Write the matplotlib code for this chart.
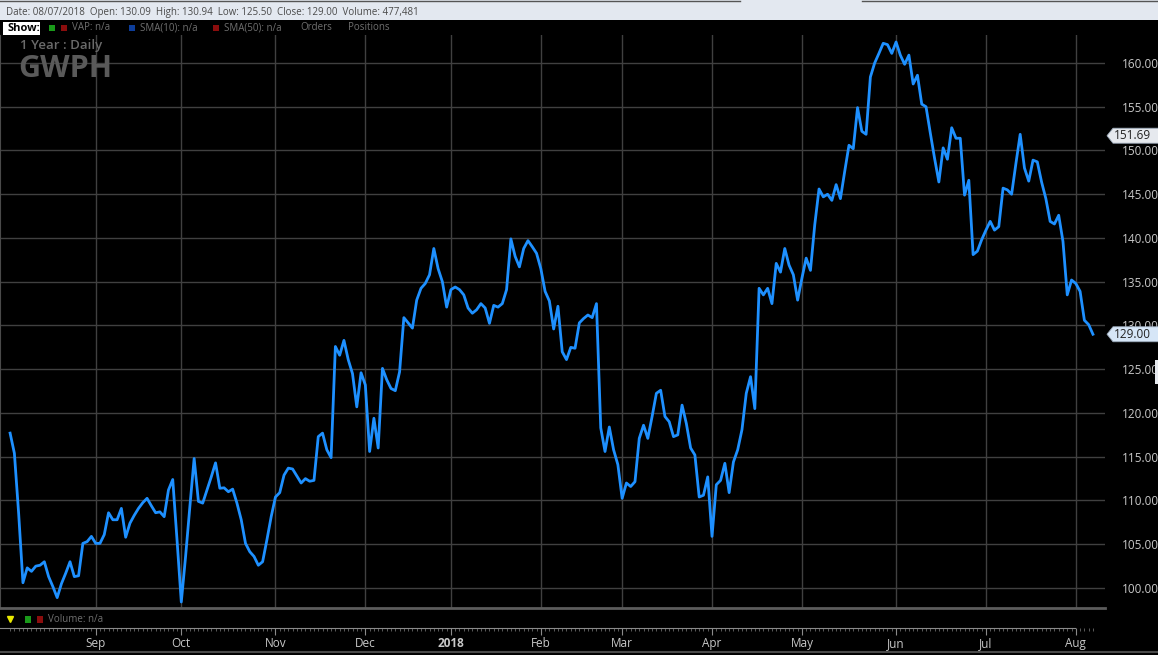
import matplotlib
matplotlib.use('Agg')
import matplotlib.pyplot as plt
from matplotlib.patches import Rectangle, Polygon
from matplotlib.lines import Line2D
import numpy as np
import pandas as pd

# trading days, US market holidays removed
holidays = ['2017-09-04', '2017-11-23', '2017-12-25', '2018-01-01', '2018-01-15',
            '2018-02-19', '2018-03-30', '2018-05-28', '2018-07-04']
dates = pd.bdate_range('2017-08-04', '2018-08-07', freq='C', holidays=holidays)

# daily close
close = [
    117.7, 115.4, 108.5, 100.6, 102.3, 101.9, 102.5, 102.6, 103.0, 101.3,
    100.15, 98.9, 100.5, 101.7, 103.0, 101.3, 101.4, 105.1, 105.3, 105.9,
    105.1, 105.1, 106.1, 108.6, 107.8, 107.8, 109.1, 105.8, 107.4, 108.3,
    109.1, 109.75, 110.25, 109.4, 108.6, 108.7, 108.15, 111.2, 112.4, 105.5,
    98.4, 103.6, 109.3, 114.8, 109.9, 109.7, 111.2, 112.7, 114.3, 111.4,
    111.45, 111.0, 111.3, 109.7, 107.8, 105.1, 104.15, 103.6, 102.6, 103.0,
    105.5, 108.15, 110.4, 110.9, 112.9, 113.7, 113.6, 112.8, 112.0, 112.5,
    112.2, 112.3, 117.3, 117.7, 115.8, 114.9, 127.6, 126.6, 128.3, 126.1,
    124.5, 120.7, 124.6, 123.2, 115.6, 119.4, 116.0, 125.1, 123.8, 122.8,
    122.55, 124.7, 130.9, 130.3, 129.7, 132.9, 134.25, 134.8, 135.8, 138.8,
    136.5, 135.0, 132.1, 134.1, 134.4, 134.1, 133.5, 132.0, 131.4, 131.8,
    132.5, 132.0, 130.25, 132.3, 132.1, 132.5, 134.1, 139.9, 137.9, 136.7,
    138.8, 139.7, 139.0, 138.25, 136.5, 133.9, 132.8, 129.6, 132.2, 127.0,
    126.1, 127.5, 127.4, 130.3, 130.8, 131.2, 130.9, 132.5, 118.3, 115.6,
    118.4, 115.8, 114.1, 110.25, 112.0, 111.6, 112.15, 117.1, 118.6, 117.1,
    119.6, 122.25, 122.6, 119.6, 119.0, 117.3, 117.5, 120.9, 118.8, 116.0,
    115.2, 110.4, 110.6, 112.7, 105.9, 111.8, 112.3, 114.25, 110.9, 114.4,
    115.8, 118.1, 122.25, 124.15, 120.5, 134.25, 133.5, 134.25, 132.5, 137.1,
    136.1, 138.8, 136.9, 135.8, 132.9, 135.4, 137.7, 136.3, 141.5, 145.6,
    144.7, 145.0, 144.3, 146.1, 144.5, 147.6, 150.6, 150.2, 154.9, 152.2,
    151.85, 158.4, 160.0, 161.1, 162.25, 162.1, 161.1, 162.4, 160.9, 159.85,
    160.9, 157.6, 158.6, 155.3, 155.0, 152.0, 149.1, 146.4, 150.3, 149.0,
    152.6, 151.4, 151.4, 144.9, 146.6, 138.1, 138.5, 139.8, 140.9, 141.9,
    140.9, 141.3, 145.7, 145.5, 145.0, 148.5, 151.85, 148.0, 146.5, 148.9,
    148.7, 146.4, 144.5, 141.9, 141.6, 142.6, 139.6, 133.5, 135.2, 134.8,
    133.9, 130.6, 130.1, 129.0,
]
dates = dates[:len(close)]

month_labels = ['Sep', 'Oct', 'Nov', 'Dec', '2018', 'Feb', 'Mar', 'Apr',
                'May', 'Jun', 'Jul', 'Aug']
price_ticks = np.arange(100, 161, 5)
marker_prices = [151.69, 129.00]
info_text = ('Date: 08/07/2018  Open: 130.09  High: 130.94  Low: 125.50  '
             'Close: 129.00  Volume: 477,481')

plt.rcParams['font.family'] = ['Open Sans', 'DejaVu Sans']

W, H = 1158, 655
fig = plt.figure(figsize=(W / 100, H / 100), dpi=100, facecolor='black')


def fx(px):
    return px / W


def fy(py):
    return 1 - py / H


# pixel mapping of the day index
x0, dx = 10.1, 4.28
xlim = ((0 - x0) / dx, (1105 - x0) / dx)

idx = np.arange(len(close))
month_pos = [i for i in range(1, len(dates)) if dates[i].month != dates[i - 1].month]

# top info bar
fig.patches.append(Rectangle((0, fy(20)), 1, 20 / H, transform=fig.transFigure,
                             facecolor='#e3e8f0', edgecolor='none'))
fig.add_artist(Line2D([0, fx(740)], [fy(1), fy(1)], color='#555555', lw=1))
fig.add_artist(Line2D([fx(862), 1], [fy(1), fy(1)], color='#555555', lw=1))
fig.text(fx(6), fy(12), info_text, fontsize=7, color='#4a4a4a', va='center')

# show row
fig.patches.append(Rectangle((fx(3), fy(35)), fx(37), 13 / H, transform=fig.transFigure,
                             facecolor='white', edgecolor='none'))
fig.text(fx(7), fy(28.5), 'Show:', fontsize=8, fontweight='bold', color='black', va='center')
for px, c in [(49, '#1a9a1a'), (61, '#8b0d0d'), (129, '#0d3d9a'), (213, '#8b0d0d')]:
    fig.patches.append(Rectangle((fx(px), fy(31)), fx(6), 6 / H, transform=fig.transFigure,
                                 facecolor=c, edgecolor='none'))
for px, t in [(72, 'VAP: n/a'), (140, 'SMA(10): n/a'), (224, 'SMA(50): n/a'),
              (300, 'Orders'), (348, 'Positions')]:
    fig.text(fx(px), fy(28), t, fontsize=7, color='#707070', va='center')

# main price panel
ax = fig.add_axes([0, fy(608), fx(1105), (608 - 35) / H])
ax.set_facecolor('black')
ax.plot(idx, close, color='#1e90ff', lw=2.0, zorder=3)
ax.set_xlim(*xlim)
ax.set_ylim(100 - 20 / 8.75, 100 + (588 - 35) / 8.75)
ax.set_xticks(month_pos)
ax.set_xticklabels(month_labels)
for lbl in ax.get_xticklabels():
    if lbl.get_text() == '2018':
        lbl.set_fontweight('bold')
ax.set_yticks(price_ticks)
ax.set_yticklabels(['%.2f' % v for v in price_ticks])
ax.yaxis.tick_right()
ax.tick_params(axis='y', length=0, pad=12, labelsize=8.5, labelcolor='#c8c8c8')
ax.tick_params(axis='x', length=0, pad=21, labelsize=8.5, labelcolor='#c8c8c8')
ax.grid(True, color='#404040', lw=1)
ax.set_axisbelow(True)
for s in ['top', 'right']:
    ax.spines[s].set_visible(False)
ax.spines['bottom'].set_color('#5c5c5c')
ax.spines['bottom'].set_linewidth(2)
ax.spines['left'].set_color('#4a4a4a')

ax.text(fx(20) / fx(1105), 1 - 11 / 573, '1 Year : Daily', transform=ax.transAxes,
        fontsize=9.5, fontweight='semibold', color='#6a6a6a', va='center')
ax.text(fx(18) / fx(1105), 1 - 34 / 573, 'GWPH', transform=ax.transAxes,
        fontsize=22, fontweight='bold', color='#5a5a5a', va='center')

# price markers on the right scale
bt = ax.get_yaxis_transform()
for p, fc in zip(marker_prices, ['#e6e9ee', '#d6e6f7']):
    h = 7.5 / 8.75
    a, b, c = 1107 / 1105, 1113 / 1105, 1160 / 1105
    ax.add_patch(Polygon([(a, p), (b, p + h), (c, p + h), (c, p - h), (b, p - h)],
                         closed=True, transform=bt, facecolor=fc, edgecolor='#9aa8b8',
                         lw=0.6, clip_on=False, zorder=6))
    ax.text(1114 / 1105, p, '%.2f' % p, transform=bt, fontsize=8.5, color='#222222',
            va='center', ha='left', zorder=7, clip_on=False)
ax.add_patch(Rectangle((1155 / 1105, 100 + (588 - 384) / 8.75), 5 / 1105, 24 / 8.75,
                       transform=bt, facecolor='#e6e9ee', edgecolor='none',
                       clip_on=False, zorder=6))

# volume panel with day ruler
av = fig.add_axes([0, fy(628), fx(1105), (628 - 611) / H])
av.set_facecolor('black')
av.set_xlim(*xlim)
av.set_ylim(0, 1)
av.set_yticks([])
av.set_xticks(month_pos)
av.set_xticks(idx, minor=True)
av.tick_params(axis='x', which='major', length=5, color='#8a8a8a', labelbottom=False)
av.tick_params(axis='x', which='minor', length=2.5, color='#6a6a6a')
for s in ['top', 'right', 'left']:
    av.spines[s].set_visible(False)
av.spines['bottom'].set_color('#8a8a8a')
av.spines['bottom'].set_bounds(xlim[0], (1075 - x0) / dx)
av.plot([(10 - x0) / dx], [0.55], marker='v', color='#e8e800', ms=5, clip_on=False)
for px, c in [(25, '#1a9a1a'), (37, '#8b0d0d')]:
    av.add_patch(Rectangle(((px - x0) / dx, 0.3), 6 / dx, 0.42, facecolor=c,
                           edgecolor='none'))
av.text((48 - x0) / dx, 0.5, 'Volume: n/a', fontsize=7, color='#707070', va='center')

fig.add_artist(Line2D([0, 1], [fy(652), fy(652)], color='#4a4a4a', lw=1.5))

fig.savefig('out.png', dpi=100, facecolor='black')
